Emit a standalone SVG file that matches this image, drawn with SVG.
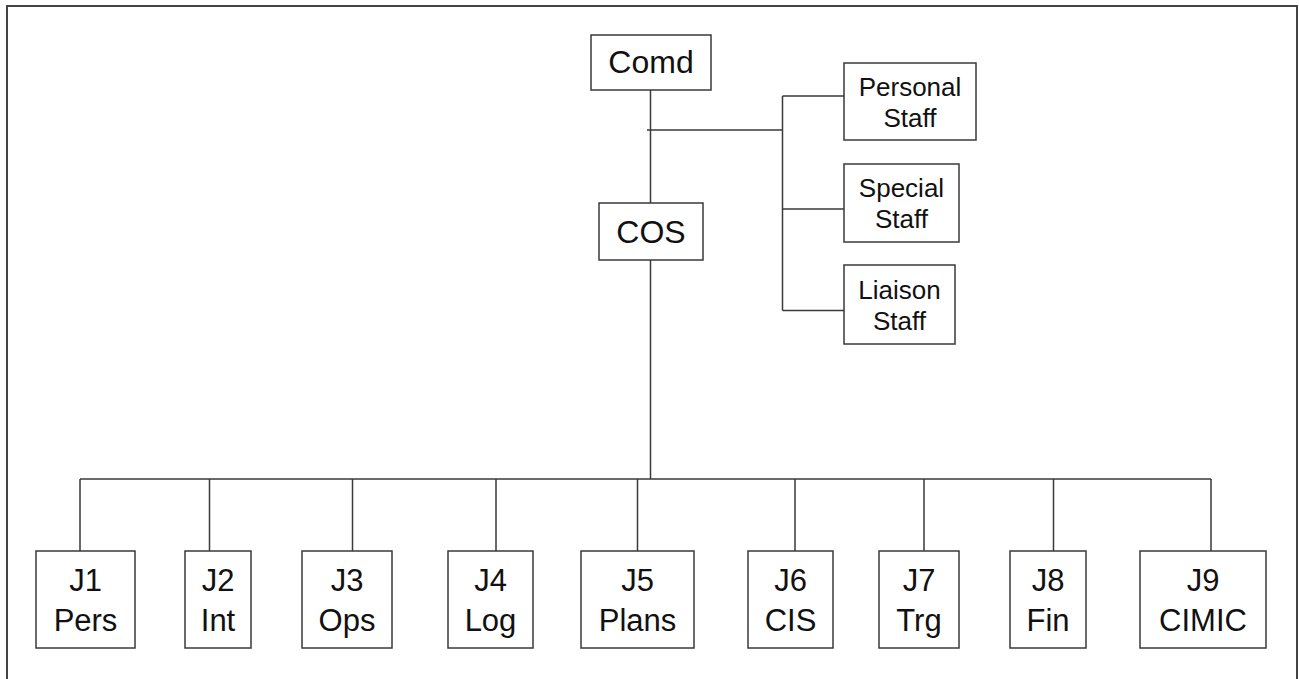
<svg xmlns="http://www.w3.org/2000/svg" width="1299" height="679" viewBox="0 0 1299 679">
<style>
.box{fill:#fff;stroke:#3a3a3a;stroke-width:1.5}
.ln{fill:none;stroke:#3a3a3a;stroke-width:1.5}
text{font-family:"Liberation Sans",Arial,sans-serif;fill:#111;text-anchor:middle}
.big{font-size:32px}
.st{font-size:26px}
.j{font-size:31px}
</style>
<rect x="0" y="0" width="1299" height="679" fill="#fff"/>
<rect x="7" y="6" width="1290" height="690" fill="none" stroke="#444" stroke-width="2"/>
<g id="connectors">
<path class="ln" d="M650.5 90V203M647 130H782.5M782.5 96V310.5M782.5 96H844M782.5 209H844M782.5 310.5H844"/>
<path class="ln" d="M650.5 260V479M80 479H1211M80 479V551M209.5 479V551M352.5 479V551M496 479V551M637.5 479V551M795 479V551M924 479V551M1053.5 479V551M1211 479V551"/>
</g>
<g id="comd"><rect class="box" x="591" y="35" width="120" height="55"/><text class="big" x="651" y="73">Comd</text></g>
<g id="cos"><rect class="box" x="599" y="203" width="104" height="57"/><text class="big" x="651" y="243">COS</text></g>
<g id="personal"><rect class="box" x="844" y="63" width="132" height="77"/><text class="st" x="910" y="96">Personal</text><text class="st" x="910" y="127">Staff</text></g>
<g id="special"><rect class="box" x="844" y="164" width="115" height="78"/><text class="st" x="901.5" y="197">Special</text><text class="st" x="901.5" y="228">Staff</text></g>
<g id="liaison"><rect class="box" x="844" y="265" width="111" height="79"/><text class="st" x="899.5" y="299">Liaison</text><text class="st" x="899.5" y="330">Staff</text></g>
<g id="j1"><rect class="box" x="36" y="551" width="99" height="97"/><text class="j" x="85.5" y="591">J1</text><text class="j" x="85.5" y="631">Pers</text></g>
<g id="j2"><rect class="box" x="185" y="551" width="66" height="97"/><text class="j" x="218" y="591">J2</text><text class="j" x="218" y="631">Int</text></g>
<g id="j3"><rect class="box" x="302" y="551" width="90" height="97"/><text class="j" x="347" y="591">J3</text><text class="j" x="347" y="631">Ops</text></g>
<g id="j4"><rect class="box" x="448" y="551" width="85" height="97"/><text class="j" x="490.5" y="591">J4</text><text class="j" x="490.5" y="631">Log</text></g>
<g id="j5"><rect class="box" x="581" y="551" width="113" height="97"/><text class="j" x="637.5" y="591">J5</text><text class="j" x="637.5" y="631">Plans</text></g>
<g id="j6"><rect class="box" x="748" y="551" width="85" height="97"/><text class="j" x="790.5" y="591">J6</text><text class="j" x="790.5" y="631">CIS</text></g>
<g id="j7"><rect class="box" x="879" y="551" width="80" height="97"/><text class="j" x="919" y="591">J7</text><text class="j" x="919" y="631">Trg</text></g>
<g id="j8"><rect class="box" x="1010" y="551" width="76" height="97"/><text class="j" x="1048" y="591">J8</text><text class="j" x="1048" y="631">Fin</text></g>
<g id="j9"><rect class="box" x="1140" y="551" width="126" height="97"/><text class="j" x="1203" y="591">J9</text><text class="j" x="1203" y="631">CIMIC</text></g>
</svg>
